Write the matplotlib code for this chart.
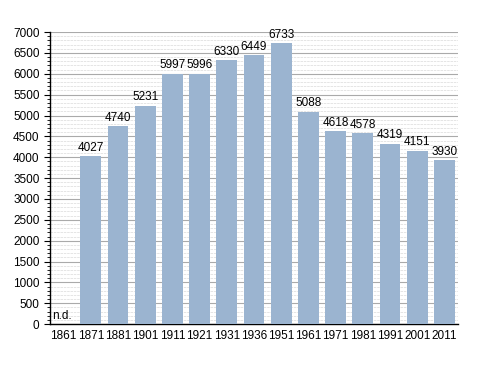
import matplotlib
matplotlib.use("Agg")
import matplotlib.pyplot as plt
from matplotlib.ticker import MultipleLocator

years = ["1861", "1871", "1881", "1901", "1911", "1921", "1931", "1936",
         "1951", "1961", "1971", "1981", "1991", "2001", "2011"]
values = [0, 4027, 4740, 5231, 5997, 5996, 6330, 6449,
          6733, 5088, 4618, 4578, 4319, 4151, 3930]
labels = ["n.d.", "4027", "4740", "5231", "5997", "5996", "6330", "6449",
          "6733", "5088", "4618", "4578", "4319", "4151", "3930"]

plt.rcParams['font.family'] = ['Liberation Sans', 'DejaVu Sans']
fig = plt.figure(figsize=(4.88, 3.73), dpi=100)
ax = fig.add_axes([0.1025, 0.131, 0.836, 0.783])

x = list(range(len(years)))
ax.bar(x, values, width=0.77, color='#9bb4d0', zorder=3)
for xi, v, lab in zip(x, values, labels):
    if lab == "n.d.":
        ax.text(xi - 0.42, 40, lab, ha='left', va='bottom', fontsize=8.5, zorder=4)
    else:
        ax.text(xi, v + 60, lab, ha='center', va='bottom', fontsize=8.5, zorder=4)

ax.set_xlim(-0.5, len(years) - 0.5)
ax.set_ylim(0, 7000)
ax.set_xticks(x)
ax.set_xticklabels(years, fontsize=8.5)
ax.yaxis.set_major_locator(MultipleLocator(500))
ax.yaxis.set_minor_locator(MultipleLocator(100))
ax.tick_params(axis='y', labelsize=8.5, length=4, width=0.8, direction='out')
ax.tick_params(axis='y', which='minor', length=2, width=0.6)
ax.tick_params(axis='x', length=0, pad=4)
ax.grid(axis='y', which='major', color='#aaaaaa', linewidth=0.8, zorder=0)
ax.grid(axis='y', which='minor', color='#e0e0e0', linewidth=0.6, linestyle=(0, (3, 1)), zorder=0)
for s in ['top', 'right']:
    ax.spines[s].set_visible(False)
ax.spines['left'].set_linewidth(1.0)
ax.spines['bottom'].set_linewidth(1.0)

fig.savefig("out.png", dpi=100)
